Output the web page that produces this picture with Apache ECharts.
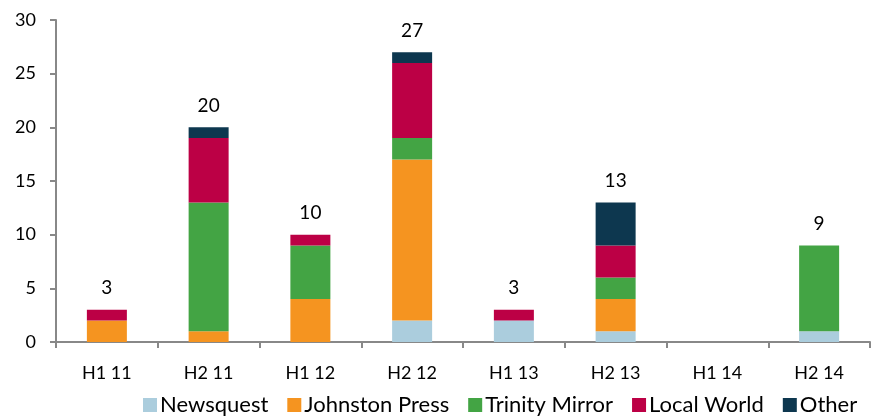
<!DOCTYPE html>
<html>
<head>
<meta charset="utf-8">
<script src="https://cdn.jsdelivr.net/npm/echarts@6/dist/echarts.min.js"></script>
<style>
  html, body { margin: 0; padding: 0; background: #fff; }
  #main { width: 880px; height: 419px; }
</style>
</head>
<body>
<div id="main"></div>
<script type="text/javascript">
    var categories = ['H1 11', 'H2 11', 'H1 12', 'H2 12', 'H1 13', 'H2 13', 'H1 14', 'H2 14'];
    var newsquest = [0, 0, 0, 2, 2, 1, 0, 1];
    var johnstonPress = [2, 1, 4, 15, 0, 3, 0, 0];
    var trinityMirror = [0, 12, 5, 2, 0, 2, 0, 8];
    var localWorld = [1, 6, 1, 7, 1, 3, 0, 0];
    var other = [0, 1, 0, 1, 0, 4, 0, 0];
    var totals = [3, 20, 10, 27, 3, 13, 0, 9];

    var font = 'Lato, "Open Sans", sans-serif';
    var myChart = echarts.init(document.getElementById('main'));

    var makeSeries = function (name, data, color) {
        return {
            name: name,
            type: 'bar',
            stack: 'total',
            barWidth: 40,
            data: data,
            itemStyle: { color: color },
            emphasis: { disabled: true }
        };
    };

    var series = [
        makeSeries('Newsquest', newsquest, '#abcddd'),
        makeSeries('Johnston Press', johnstonPress, '#f59420'),
        makeSeries('Trinity Mirror', trinityMirror, '#43a444'),
        makeSeries('Local World', localWorld, '#bc0045'),
        makeSeries('Other', other, '#0d374f'),
        {
            name: 'Total',
            type: 'bar',
            stack: 'total',
            barWidth: 40,
            data: totals.map(function () { return 0; }),
            itemStyle: { color: 'transparent' },
            label: {
                show: true,
                position: 'top',
                distance: 12,
                color: '#000',
                fontSize: 19,
                fontFamily: font,
                formatter: function (p) {
                    return totals[p.dataIndex] ? String(totals[p.dataIndex]) : '';
                }
            }
        }
    ];

    var option = {
        animation: false,
        backgroundColor: '#fff',
        grid: { left: 56, right: 10, top: 20, bottom: 77 },
        legend: {
            data: ['Newsquest', 'Johnston Press', 'Trinity Mirror', 'Local World', 'Other'],
            bottom: -2,
            left: 138,
            itemWidth: 14,
            itemHeight: 14,
            itemGap: 19,
            icon: 'rect',
            textStyle: { fontSize: 22, color: '#000', fontFamily: font, padding: [0, 0, 0, -2] }
        },
        xAxis: {
            type: 'category',
            data: categories,
            axisLine: { lineStyle: { color: '#888', width: 2 } },
            axisTick: { show: true, length: 6, lineStyle: { color: '#888', width: 2 } },
            axisLabel: { color: '#000', fontSize: 18, fontFamily: font, margin: 22 }
        },
        yAxis: {
            type: 'value',
            min: 0,
            max: 30,
            interval: 5,
            splitLine: { show: false },
            axisLine: { show: true, lineStyle: { color: '#888', width: 2 } },
            axisTick: { show: true, length: 6, lineStyle: { color: '#888', width: 2 } },
            axisLabel: { color: '#000', fontSize: 18, fontFamily: font, margin: 20 }
        },
        series: series
    };
    myChart.setOption(option);
</script>
</body>
</html>
